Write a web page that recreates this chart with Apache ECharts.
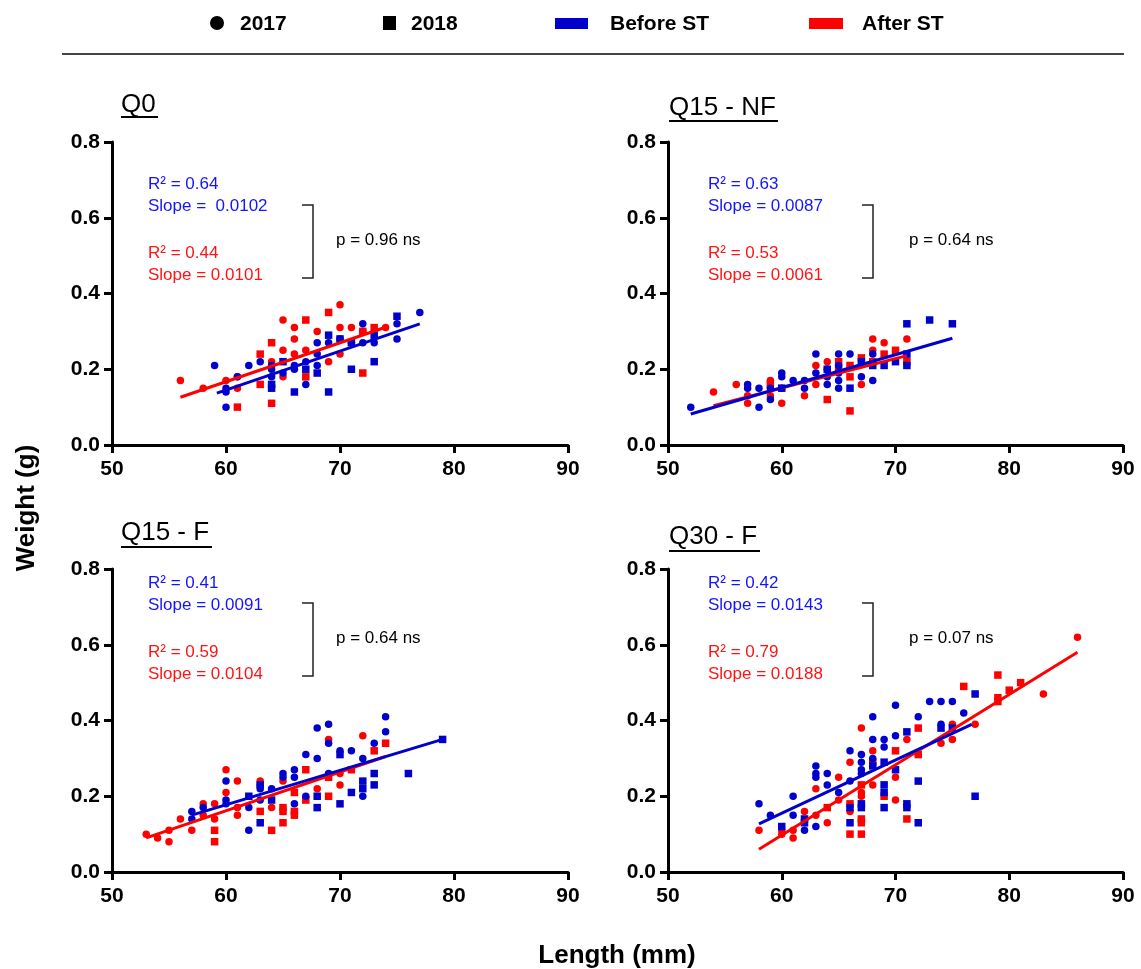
<!DOCTYPE html>
<html>
<head>
<meta charset="utf-8">
<script src="https://cdn.jsdelivr.net/npm/echarts@6/dist/echarts.min.js"></script>
<style>
html,body{margin:0;padding:0;background:#fff;}
#chart{width:1141px;height:969px;}
</style>
</head>
<body>
<div id="chart"></div>
<script>
// ---------- DATA ----------
const panelTitles = ["Q0", "Q15 - NF", "Q15 - F", "Q30 - F"];
const xTicks = [50, 60, 70, 80, 90];
const yTicks = [0.0, 0.2, 0.4, 0.6, 0.8];

// Q0
const q0Before2017 = [[59,0.21],[60,0.10],[60,0.14],[60,0.15],[61,0.18],[62,0.21],[63,0.22],[64,0.20],[64,0.18],[64,0.21],[65,0.19],[66,0.21],[66,0.20],[67,0.16],[67,0.22],[68,0.27],[68,0.24],[68,0.21],[69,0.27],[70,0.28],[71,0.27],[72,0.32],[72,0.27],[73,0.27],[75,0.32],[75,0.28],[77,0.35]];
const q0Before2018 = [[64,0.15],[64,0.16],[65,0.22],[66,0.14],[67,0.20],[68,0.19],[69,0.29],[69,0.14],[70,0.28],[71,0.20],[71,0.27],[73,0.22],[73,0.29],[75,0.34]];
const q0After2017 = [[56,0.17],[58,0.15],[60,0.17],[61,0.18],[61,0.15],[64,0.22],[65,0.33],[65,0.25],[65,0.18],[66,0.31],[66,0.28],[66,0.24],[67,0.25],[68,0.30],[69,0.22],[70,0.37],[70,0.31],[70,0.24],[71,0.31],[72,0.30],[74,0.31]];
const q0After2018 = [[61,0.10],[63,0.24],[63,0.16],[64,0.27],[64,0.11],[67,0.33],[67,0.18],[69,0.35],[72,0.19],[72,0.30],[73,0.31]];
const q0FitBefore = [[59.2,0.137],[77,0.32]];
const q0FitAfter = [[56,0.126],[74,0.311]];

// Q15 - NF
const nfBefore2017 = [[52,0.10],[57,0.16],[57,0.15],[58,0.15],[58,0.10],[59,0.15],[59,0.12],[60,0.19],[60,0.18],[60,0.15],[61,0.17],[62,0.17],[62,0.15],[63,0.24],[63,0.19],[64,0.20],[64,0.18],[64,0.16],[65,0.24],[65,0.21],[65,0.19],[65,0.17],[65,0.15],[66,0.24],[67,0.18],[68,0.24],[68,0.17]];
const nfBefore2018 = [[60,0.15],[64,0.20],[66,0.15],[67,0.22],[68,0.21],[69,0.21],[70,0.22],[71,0.32],[71,0.24],[71,0.21],[73,0.33],[75,0.32]];
const nfAfter2017 = [[54,0.14],[56,0.16],[57,0.13],[57,0.11],[59,0.17],[59,0.13],[60,0.11],[62,0.13],[63,0.21],[63,0.16],[64,0.22],[67,0.16],[68,0.28],[68,0.25],[69,0.27],[71,0.28]];
const nfAfter2018 = [[59,0.16],[64,0.12],[65,0.22],[65,0.20],[66,0.21],[66,0.18],[66,0.09],[67,0.23],[68,0.22],[69,0.24],[70,0.25],[71,0.22]];
const nfFitBefore = [[52,0.082],[75,0.282]];
const nfFitAfter = [[54,0.104],[71,0.236]];

// Q15 - F
const fBefore2017 = [[57,0.16],[57,0.14],[58,0.17],[60,0.24],[60,0.19],[60,0.18],[62,0.11],[62,0.17],[63,0.23],[63,0.22],[63,0.19],[64,0.22],[65,0.26],[65,0.25],[66,0.27],[66,0.25],[66,0.18],[67,0.31],[67,0.20],[68,0.38],[68,0.30],[69,0.39],[69,0.34],[69,0.26],[70,0.32],[71,0.32],[72,0.30],[72,0.20],[73,0.34],[74,0.41],[74,0.37]];
const fBefore2018 = [[62,0.20],[63,0.13],[63,0.23],[64,0.19],[68,0.17],[68,0.20],[70,0.31],[70,0.18],[71,0.21],[72,0.24],[72,0.22],[73,0.26],[73,0.23],[76,0.26],[79,0.35]];
const fAfter2017 = [[53,0.10],[54,0.09],[55,0.11],[55,0.08],[56,0.14],[57,0.11],[58,0.18],[58,0.15],[59,0.18],[59,0.14],[60,0.27],[60,0.21],[61,0.24],[61,0.17],[61,0.15],[63,0.24],[64,0.17],[65,0.24],[68,0.22],[69,0.35],[70,0.26],[70,0.23],[72,0.36]];
const fAfter2018 = [[59,0.11],[59,0.08],[63,0.16],[64,0.11],[65,0.17],[65,0.16],[65,0.13],[66,0.21],[66,0.16],[66,0.15],[67,0.19],[67,0.27],[69,0.20],[69,0.25],[71,0.27],[73,0.32],[74,0.34]];
const fFitBefore = [[57,0.15],[79,0.35]];
const fFitAfter = [[53,0.09],[74,0.305]];

// Q30 - F
const q30Before2017 = [[58,0.18],[59,0.15],[61,0.20],[61,0.15],[62,0.11],[63,0.28],[63,0.26],[63,0.25],[63,0.12],[64,0.26],[64,0.23],[65,0.21],[66,0.32],[66,0.24],[67,0.31],[67,0.29],[67,0.27],[67,0.26],[68,0.41],[68,0.35],[68,0.30],[69,0.35],[69,0.33],[70,0.44],[70,0.36],[72,0.41],[73,0.45],[74,0.45],[74,0.39],[75,0.45],[76,0.42]];
const q30Before2018 = [[60,0.12],[62,0.14],[62,0.13],[66,0.17],[66,0.13],[67,0.18],[67,0.17],[68,0.28],[69,0.29],[69,0.23],[69,0.21],[69,0.17],[70,0.27],[71,0.37],[71,0.18],[71,0.17],[72,0.24],[72,0.13],[74,0.38],[75,0.38],[77,0.47],[77,0.20]];
const q30After2017 = [[58,0.11],[60,0.11],[60,0.10],[61,0.11],[61,0.09],[62,0.16],[63,0.22],[63,0.15],[64,0.13],[65,0.25],[65,0.19],[66,0.29],[66,0.16],[67,0.38],[67,0.21],[67,0.20],[68,0.32],[68,0.23],[70,0.25],[70,0.19],[71,0.35],[74,0.34],[75,0.39],[75,0.35],[77,0.39],[83,0.47],[86,0.62]];
const q30After2018 = [[64,0.17],[66,0.18],[66,0.10],[67,0.23],[67,0.14],[67,0.13],[67,0.10],[68,0.29],[69,0.20],[70,0.32],[71,0.14],[72,0.38],[72,0.31],[76,0.49],[79,0.52],[79,0.46],[79,0.45],[80,0.48],[81,0.50]];
const q30FitBefore = [[58,0.127],[76.7,0.39]];
const q30FitAfter = [[58,0.06],[86,0.58]];

// Annotation texts
const beforeR2 = ["R² = 0.64", "R² = 0.63", "R² = 0.41", "R² = 0.42"];
const beforeSlope = ["Slope =  0.0102", "Slope = 0.0087", "Slope = 0.0091", "Slope = 0.0143"];
const afterR2 = ["R² = 0.44", "R² = 0.53", "R² = 0.59", "R² = 0.79"];
const afterSlope = ["Slope = 0.0101", "Slope = 0.0061", "Slope = 0.0104", "Slope = 0.0188"];
const pTexts = ["p = 0.96 ns", "p = 0.64 ns", "p = 0.64 ns", "p = 0.07 ns"];
const legendLabels = ["2017", "2018", "Before ST", "After ST"];

// ---------- BUILD ----------
const panels = [
  {b17:q0Before2017,b18:q0Before2018,a17:q0After2017,a18:q0After2018,fb:q0FitBefore,fa:q0FitAfter},
  {b17:nfBefore2017,b18:nfBefore2018,a17:nfAfter2017,a18:nfAfter2018,fb:nfFitBefore,fa:nfFitAfter},
  {b17:fBefore2017,b18:fBefore2018,a17:fAfter2017,a18:fAfter2018,fb:fFitBefore,fa:fFitAfter},
  {b17:q30Before2017,b18:q30Before2018,a17:q30After2017,a18:q30After2018,fb:q30FitBefore,fa:q30FitAfter}
];

const BLUE = "#0000CC";
const RED = "#FF0000";
const BLUE_TXT = "#1414FF";
const RED_TXT = "#FF1414";
const FONT = "'Liberation Sans', Arial, sans-serif";

const gridPos = [
  {left:112, top:142, width:456, height:303},
  {left:668, top:142, width:455, height:303},
  {left:112, top:569, width:456, height:303},
  {left:668, top:569, width:455, height:303}
];

const grids = gridPos.map(g => Object.assign({containLabel:false}, g));
const xAxes = gridPos.map((g,i) => ({
  type:'value', gridIndex:i, min:xTicks[0], max:xTicks[xTicks.length-1], interval:10,
  axisLine:{show:true, onZero:false, lineStyle:{color:'#000', width:3}},
  axisTick:{show:true, inside:false, length:8, lineStyle:{color:'#000', width:3}},
  axisLabel:{show:true, margin:14, color:'#000', fontFamily:FONT, fontWeight:'bold', fontSize:21},
  splitLine:{show:false}
}));
const yAxes = gridPos.map((g,i) => ({
  type:'value', gridIndex:i, min:yTicks[0], max:yTicks[yTicks.length-1], interval:0.2,
  axisLine:{show:true, onZero:false, lineStyle:{color:'#000', width:3}},
  axisTick:{show:true, inside:false, length:8, lineStyle:{color:'#000', width:3}},
  axisLabel:{show:true, margin:12, color:'#000', fontFamily:FONT, fontWeight:'bold', fontSize:21,
    formatter: v => v.toFixed(1)},
  splitLine:{show:false}
}));

const series = [];
panels.forEach((p,i) => {
  const sc = (data, color, symbol) => ({
    type:'scatter', xAxisIndex:i, yAxisIndex:i, data:data, symbol:symbol, symbolSize:7.5,
    itemStyle:{color:color, opacity:1}, silent:true, z:2
  });
  series.push(sc(p.a17, RED, 'circle'));
  series.push(sc(p.a18, RED, 'rect'));
  series.push(sc(p.b17, BLUE, 'circle'));
  series.push(sc(p.b18, BLUE, 'rect'));
  series.push({type:'line', xAxisIndex:i, yAxisIndex:i, data:p.fa, showSymbol:false, symbol:'none',
    lineStyle:{color:RED, width:3}, silent:true, z:3});
  series.push({type:'line', xAxisIndex:i, yAxisIndex:i, data:p.fb, showSymbol:false, symbol:'none',
    lineStyle:{color:BLUE, width:3}, silent:true, z:4});
});

// ---------- GRAPHICS ----------
const graphic = [];
function txt(x, y, s, opts) {
  graphic.push({type:'text', x:x, y:y, silent:true, z:10, style:Object.assign({
    text:s, fill:'#000', font:'17px ' + FONT, align:'left', verticalAlign:'middle'
  }, opts || {})});
}
function line(x1,y1,x2,y2,color,w) {
  graphic.push({type:'line', silent:true, z:10, shape:{x1:x1,y1:y1,x2:x2,y2:y2}, style:{stroke:color, lineWidth:w}});
}

// legend
graphic.push({type:'circle', silent:true, shape:{cx:217, cy:23, r:7}, style:{fill:'#000'}});
txt(240, 24, legendLabels[0], {font:'bold 21px ' + FONT});
graphic.push({type:'rect', silent:true, shape:{x:383, y:16, width:13, height:14}, style:{fill:'#000'}});
txt(411, 24, legendLabels[1], {font:'bold 21px ' + FONT});
graphic.push({type:'rect', silent:true, shape:{x:555, y:18, width:33, height:11}, style:{fill:BLUE}});
txt(610, 24, legendLabels[2], {font:'bold 21px ' + FONT});
graphic.push({type:'rect', silent:true, shape:{x:809, y:18, width:34, height:11}, style:{fill:RED}});
txt(862, 24, legendLabels[3], {font:'bold 21px ' + FONT});
line(62, 54, 1124, 54, '#444', 2);

// panel titles (underlined)
const titlePos = [
  {x:121, y:105, ul:117, w:37},
  {x:669, y:108, ul:121, w:109},
  {x:121, y:533, ul:547, w:91},
  {x:669, y:537, ul:551, w:91}
];
titlePos.forEach((t,i) => {
  txt(t.x, t.y, panelTitles[i], {font:'26px ' + FONT, fill:'#000'});
  line(t.x, t.ul, t.x + t.w, t.ul, '#000', 2);
});

// annotations
const annPos = [
  {tx:148, ty:184, bx:313, by1:205, by2:278, px:336, py:240},
  {tx:708, ty:184, bx:873, by1:205, by2:278, px:909, py:240},
  {tx:148, ty:583, bx:313, by1:603, by2:676, px:336, py:638},
  {tx:708, ty:583, bx:873, by1:603, by2:676, px:909, py:638}
];
annPos.forEach((a,i) => {
  txt(a.tx, a.ty, beforeR2[i], {fill:BLUE_TXT});
  txt(a.tx, a.ty + 22, beforeSlope[i], {fill:BLUE_TXT});
  txt(a.tx, a.ty + 69, afterR2[i], {fill:RED_TXT});
  txt(a.tx, a.ty + 91, afterSlope[i], {fill:RED_TXT});
  graphic.push({type:'polyline', silent:true, z:10,
    shape:{points:[[a.bx-11,a.by1],[a.bx,a.by1],[a.bx,a.by2],[a.bx-11,a.by2]]},
    style:{stroke:'#222', lineWidth:1.5, fill:null}});
  txt(a.px, a.py, pTexts[i], {fill:'#000'});
});

// axis titles
graphic.push({type:'text', silent:true, x:27, y:508, rotation:Math.PI/2, z:10,
  style:{text:'Weight (g)', font:'bold 26px ' + FONT, fill:'#000', align:'center', verticalAlign:'middle'}});
txt(617, 956, 'Length (mm)', {font:'bold 26px ' + FONT, align:'center'});

const chart = echarts.init(document.getElementById('chart'), null, {renderer:'canvas'});
chart.setOption({
  animation:false,
  backgroundColor:'#fff',
  grid:grids, xAxis:xAxes, yAxis:yAxes, series:series, graphic:graphic
});
</script>
</body>
</html>
